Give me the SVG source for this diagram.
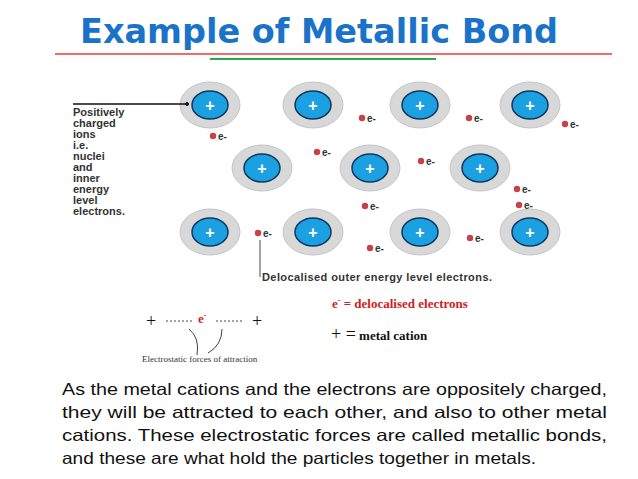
<svg xmlns="http://www.w3.org/2000/svg" width="638" height="479" viewBox="0 0 638 479">
<style>
.o{fill:#d8d8d8;stroke:#c4c4c4;stroke-width:1}
.i{fill:#1ba1e2;stroke:#10365a;stroke-width:1.5}
.p{fill:#fff;font:bold 16px "Liberation Sans",sans-serif;text-anchor:middle}
.e{fill:#c8404a}
.et{font:bold 10px "Liberation Sans",sans-serif;fill:#333}
.lab{font:bold 11px "Liberation Sans",sans-serif;fill:#333}
.b{font:16.5px "Liberation Sans",sans-serif;fill:#111}
</style>
<defs>
<g id="cat"><ellipse class="o" rx="30" ry="23"/><ellipse class="i" rx="18" ry="14"/><text class="p" y="6">+</text></g>
<g id="el"><circle class="e" r="3.2"/><text class="et" x="5" y="3.5">e-</text></g>
</defs>
<rect width="638" height="479" fill="#fff"/>
<text x="80" y="43" textLength="478" lengthAdjust="spacingAndGlyphs" font-family="'Comic Sans MS','DejaVu Sans',sans-serif" font-weight="bold" font-size="34" fill="#1a73c8">Example of Metallic Bond</text>
<line x1="55" y1="54" x2="612" y2="54" stroke="#e83a3a" stroke-width="1.5"/>
<line x1="210" y1="59" x2="436" y2="59" stroke="#2aa84a" stroke-width="2"/>
<g id="cations">
<use href="#cat" x="210" y="105"/><use href="#cat" x="313" y="105"/><use href="#cat" x="420" y="105"/><use href="#cat" x="530" y="105"/>
<use href="#cat" x="262" y="168"/><use href="#cat" x="370" y="168"/><use href="#cat" x="480" y="168"/>
<use href="#cat" x="210" y="232"/><use href="#cat" x="313" y="232"/><use href="#cat" x="420" y="232"/><use href="#cat" x="530" y="232"/>
</g>
<g id="electrons">
<use href="#el" x="213" y="136"/><use href="#el" x="362" y="118"/><use href="#el" x="469" y="118"/><use href="#el" x="565" y="124"/>
<use href="#el" x="317" y="152"/><use href="#el" x="421" y="161"/><use href="#el" x="517" y="189"/>
<use href="#el" x="365" y="206"/><use href="#el" x="519" y="205"/>
<use href="#el" x="258" y="233"/><use href="#el" x="470" y="238"/><use href="#el" x="370" y="248"/>
</g>
<g id="connectors" stroke="#111" fill="none">
<line x1="73" y1="104" x2="186" y2="104" stroke-width="1.5"/>
<circle cx="187" cy="104" r="1.5" fill="#111"/>
<line x1="260" y1="240" x2="260" y2="277" stroke="#666" stroke-width="1.2"/>
<line x1="166" y1="321" x2="192" y2="321" stroke-dasharray="2,2" stroke-width="0.8"/>
<line x1="216" y1="321" x2="242" y2="321" stroke-dasharray="2,2" stroke-width="0.8"/>
<path d="M189 329 Q200 338 197 355" stroke-width="0.8"/>
<path d="M222 329 Q222 345 208 353" stroke-width="0.8"/>
</g>
<g id="labels">
<text class="lab"><tspan x="73" y="116">Positively</tspan><tspan x="73" y="127">charged</tspan><tspan x="73" y="138">ions</tspan><tspan x="73" y="149">i.e.</tspan><tspan x="73" y="160">nuclei</tspan><tspan x="73" y="171">and</tspan><tspan x="73" y="182">inner</tspan><tspan x="73" y="193">energy</tspan><tspan x="73" y="204">level</tspan><tspan x="73" y="215">electrons.</tspan></text>
<text class="lab" x="262" y="281" textLength="230">Delocalised outer energy level electrons.</text>
<text x="332" y="308" font-family="'Liberation Serif',serif" font-weight="bold" font-size="13" fill="#d02020">e<tspan dy="-5" font-size="8">-</tspan><tspan dy="5"> = delocalised electrons</tspan></text>
<text x="331" y="340" font-family="'Liberation Serif',serif" font-size="18" fill="#111">+ =<tspan font-size="13" font-weight="bold"> metal cation</tspan></text>
<text x="146" y="327" font-family="'Liberation Serif',serif" font-size="18" fill="#111">+</text>
<text x="252" y="327" font-family="'Liberation Serif',serif" font-size="18" fill="#111">+</text>
<text x="198" y="323" font-family="'Liberation Serif',serif" font-weight="bold" font-size="13" fill="#d02020">e<tspan dy="-5" font-size="8">-</tspan></text>
<text x="142" y="362" font-family="'Liberation Serif',serif" font-size="9" fill="#333">Electrostatic forces of attraction</text>
<text class="b"><tspan x="62" y="395" textLength="545" lengthAdjust="spacingAndGlyphs">As the metal cations and the electrons are oppositely charged,</tspan><tspan x="62" y="418" textLength="545" lengthAdjust="spacingAndGlyphs">they will be attracted to each other, and also to other metal</tspan><tspan x="62" y="441" textLength="545" lengthAdjust="spacingAndGlyphs">cations. These electrostatic forces are called metallic bonds,</tspan><tspan x="62" y="464" textLength="474" lengthAdjust="spacingAndGlyphs">and these are what hold the particles together in metals.</tspan></text>
</g>
</svg>
